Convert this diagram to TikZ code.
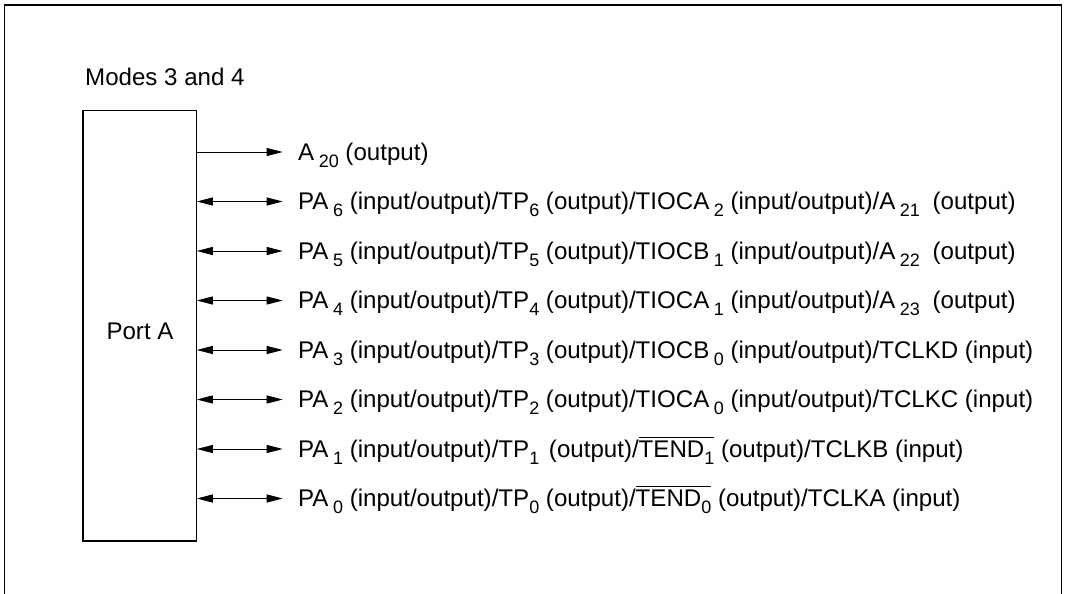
\documentclass[tikz,border=0pt]{standalone}
\usepackage{fontspec}
\setmainfont{Liberation Sans}
\usetikzlibrary{arrows.meta}
\newcommand\sbs[1]{\raisebox{-7pt}{\fontsize{18}{18}\selectfont #1}}
\newcommand\gsbs[1]{\hspace{4.5pt}\sbs{#1}}
\newcommand\ovl[1]{\vbox{\hrule height 0.9pt\kern 3pt\hbox{#1}}}
\begin{document}
\begin{tikzpicture}[x=1pt,y=1pt,
  every node/.style={font=\fontsize{24.1}{28}\selectfont},
  lbl/.style={anchor=base west,inner sep=0pt},
  portbox/.style={draw,line width=1.3pt,minimum width=113.3pt,minimum height=430.3pt,inner sep=0pt},
  sig/.style={line width=0.9pt,-{Triangle[length=16pt,width=8pt]}},
  bisig/.style={line width=0.9pt,{Triangle[length=16pt,width=8pt]}-{Triangle[length=16pt,width=8pt]}},
  frame/.style={line width=1.3pt}]
\useasboundingbox (0,0) rectangle (1068,-594);
\draw[frame] (4.5,-594) -- (4.5,-5) -- (1061.5,-5) -- (1061.5,-594);
\node[lbl] (modes) at (85,-85) {Modes 3 and 4};
\node[portbox] (port) at (139.5,-325.8) {};
\node[lbl,anchor=base] (portlbl) at (140,-339) {Port A};
\foreach \i/\y in {0/152,1/201.5,2/251,3/300.5,4/350,5/399.5,6/449,7/498.5}{
  \coordinate (e\i) at (282.7,-\y);
}
\node[lbl] (t0) at (298,-160) {A\gsbs{20} (output)};
\node[lbl] (t1) at (298,-209.5) {PA\gsbs{6} (input/output)/TP\sbs{6} (output)/TIOCA\gsbs{2} (input/output)/A\gsbs{21}\hspace{6pt} (output)};
\node[lbl] (t2) at (298,-259) {PA\gsbs{5} (input/output)/TP\sbs{5} (output)/TIOCB\gsbs{1} (input/output)/A\gsbs{22}\hspace{6pt} (output)};
\node[lbl] (t3) at (298,-308.5) {PA\gsbs{4} (input/output)/TP\sbs{4} (output)/TIOCA\gsbs{1} (input/output)/A\gsbs{23}\hspace{6pt} (output)};
\node[lbl] (t4) at (298,-358) {PA\gsbs{3} (input/output)/TP\sbs{3} (output)/TIOCB\gsbs{0} (input/output)/TCLKD (input)};
\node[lbl] (t5) at (298,-407.5) {PA\gsbs{2} (input/output)/TP\sbs{2} (output)/TIOCA\gsbs{0} (input/output)/TCLKC (input)};
\node[lbl] (t6) at (298,-457) {PA\gsbs{1} (input/output)/TP\sbs{1}\hspace{3pt} (output)/\ovl{TEND\sbs{1}} (output)/TCLKB (input)};
\node[lbl] (t7) at (298,-506.5) {PA\gsbs{0} (input/output)/TP\sbs{0} (output)/\ovl{TEND\sbs{0}} (output)/TCLKA (input)};
\draw[sig] (port.east |- e0) -- (e0);
\foreach \i in {1,...,7}{
  \draw[bisig] (port.east |- e\i) -- (e\i);
}
\end{tikzpicture}
\end{document}
